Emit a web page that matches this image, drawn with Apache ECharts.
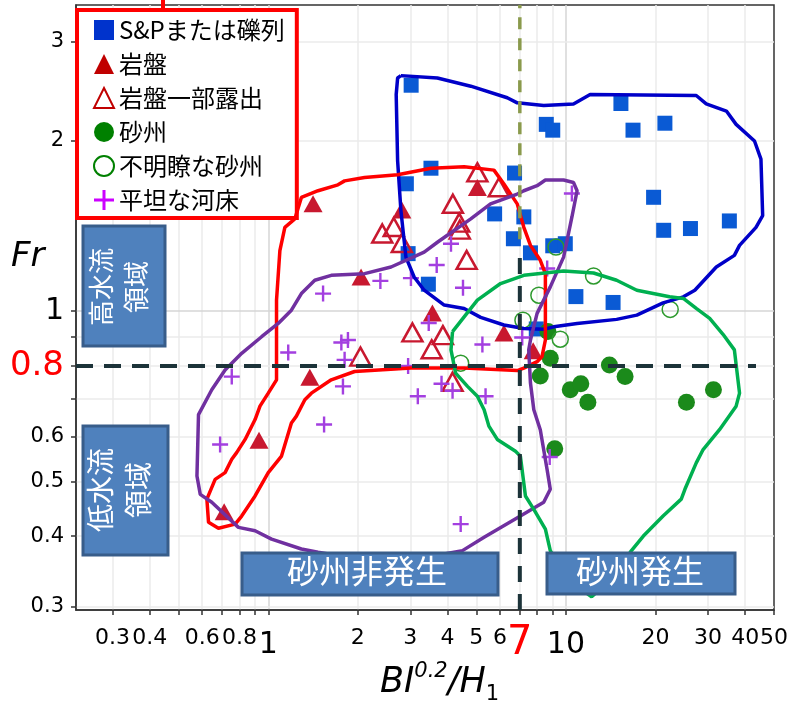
<!DOCTYPE html>
<html><head><meta charset="utf-8">
<script src="https://cdn.jsdelivr.net/npm/echarts@6/dist/echarts.min.js"></script>
<style>html,body{margin:0;padding:0;background:#fff}#c{width:791px;height:702px}</style>
</head><body><div id="c"></div>
<script>
// ---- axis setup ----
const xMin = 0.226, xMax = 50;
const yMin = 0.296, yMax = 3.48;
const xTickMarks = [0.3,0.4,0.5,0.6,0.7,0.8,0.9,1,2,3,4,5,6,7,8,9,10,20,30,40,50];
const xTickLabels = [0.3,0.4,0.6,0.8,1,2,3,4,5,6,7,10,20,30,40,50];
const yTickMarks = [0.3,0.4,0.5,0.6,0.7,0.8,0.9,1,2,3];
const yTickLabels = [0.3,0.4,0.5,0.6,0.8,1,2,3];
const xGrid = [0.3,0.4,0.5,0.6,0.7,0.8,0.9,1,2,3,4,5,6,7,8,9,10,20,30,40];
const yGrid = [0.3,0.4,0.5,0.6,0.7,0.8,0.9,1,2,3];
const xMajorGrid = [1,10];
const yMajorGrid = [1];
const frLine = 0.8;      // horizontal reference Fr
const xLine = 7;         // vertical reference
const frLineEndX = 43.5;
const xLineDarkTop = 1.28, xLineOliveBottom = 1.34;

// ---- scatter data [BI^0.2/H1, Fr] ----
const gravel = [[3.02,2.51],[15.3,2.33],[8.59,2.14],[9.03,2.09],[16.8,2.09],[21.5,2.15],[3.52,1.79],[2.91,1.68],[6.72,1.755],[19.7,1.59],[5.76,1.486],[7.22,1.468],[21.3,1.39],[26.2,1.40],[35.4,1.444],[6.66,1.343],[9.03,1.305],[9.95,1.316],[7.60,1.268],[2.95,1.264],[3.45,1.116],[10.8,1.061],[14.4,1.036],[7.95,0.93]];
const bedrock = [[1.414,1.548],[2.05,1.149],[2.81,1.51],[5.04,1.655],[3.56,0.992],[6.19,0.915],[1.379,0.764],[0.931,0.591],[0.711,0.4415],[7.76,0.851]];
const partBedrock = [[5.04,1.76],[5.95,1.656],[4.17,1.549],[4.38,1.434],[4.40,1.394],[2.64,1.409],[2.415,1.372],[2.81,1.32],[4.64,1.232],[3.05,0.917],[3.86,0.907],[3.54,0.856],[2.04,0.831],[4.16,0.75]];
const sandbar = [[8.70,0.92],[8.86,0.825],[8.20,0.768],[10.34,0.726],[11.22,0.744],[11.85,0.690],[14.0,0.803],[15.8,0.766],[25.4,0.690],[31.3,0.726],[9.17,0.571]];
const unclearBar = [[9.26,1.298],[12.38,1.154],[8.11,1.067],[22.4,1.007],[7.17,0.964],[9.57,0.892],[4.43,0.809]];
const flatBed = [[10.47,1.615],[4.11,1.316],[3.68,1.207],[4.51,1.10],[3.015,1.144],[2.38,1.131],[1.528,1.074],[3.46,0.953],[5.24,0.873],[1.167,0.845],[1.76,0.88],[1.852,0.889],[1.805,0.820],[0.754,0.766],[1.782,0.736],[2.95,0.80],[3.18,0.707],[3.82,0.744],[4.16,0.723],[5.37,0.707],[7.13,0.898],[8.65,1.19],[8.82,0.552],[4.43,0.42],[0.689,0.581],[1.54,0.630]];

// ---- hand-drawn region outlines ----
const blueOutline = [[2.79,2.61],[3.70,2.585],[4.79,2.50],[6.35,2.385],[6.86,2.336],[8.42,2.31],[10.6,2.326],[12.06,2.417],[27.4,2.407],[29.6,2.326],[34.6,2.259],[37.3,2.14],[43.0,2.0],[45.2,1.857],[45.8,1.476],[43.5,1.407],[38.3,1.307],[36.8,1.255],[32.0,1.197],[27.1,1.089],[24.8,1.06],[21.2,1.034],[17.3,0.984],[14.8,0.967],[10.9,0.951],[9.10,0.938],[8.42,0.929],[7.22,0.932],[6.19,0.945],[5.17,0.975],[4.55,1.011],[3.90,1.025],[3.34,1.089],[3.09,1.149],[2.90,1.246],[2.79,1.506],[2.72,1.845],[2.69,2.417],[2.72,2.585],[2.79,2.61]];
const redOutline = [[1.228,1.456],[1.292,1.589],[1.47,1.633],[1.714,1.673],[1.805,1.70],[2.106,1.723],[2.72,1.743],[3.52,1.79],[4.55,1.80],[5.73,1.776],[6.19,1.678],[6.86,1.548],[7.22,1.407],[7.60,1.307],[8.20,1.23],[8.53,1.165],[8.53,1.074],[8.53,0.889],[8.31,0.831],[8.0,0.814],[7.22,0.793],[6.86,0.785],[4.55,0.793],[3.015,0.793],[1.95,0.782],[1.628,0.756],[1.396,0.716],[1.327,0.697],[1.243,0.652],[1.196,0.634],[1.108,0.554],[1.0,0.518],[0.903,0.471],[0.814,0.434],[0.774,0.42],[0.68,0.413],[0.63,0.423],[0.622,0.465],[0.663,0.504],[0.716,0.518],[0.754,0.547],[0.783,0.562],[0.836,0.593],[0.903,0.643],[0.938,0.679],[1.0,0.716],[1.066,0.756],[1.066,1.046],[1.094,1.28],[1.137,1.407],[1.228,1.456]];
const purpleOutline = [[6.86,1.611],[5.58,1.548],[4.79,1.456],[4.21,1.389],[3.70,1.324],[3.34,1.272],[2.585,1.197],[2.106,1.165],[1.628,1.157],[1.433,1.134],[1.292,1.074],[1.196,1.004],[1.08,0.951],[0.95,0.901],[0.814,0.842],[0.716,0.787],[0.646,0.726],[0.583,0.656],[0.576,0.511],[0.591,0.474],[0.646,0.459],[0.794,0.4144],[0.903,0.4088],[1.026,0.395],[1.292,0.3795],[1.47,0.3745],[2.52,0.357],[4.49,0.377],[5.31,0.398],[7.03,0.434],[8.42,0.459],[8.86,0.484],[8.64,0.525],[8.20,0.617],[7.80,0.669],[7.60,0.746],[7.50,0.854],[7.60,0.889],[8.0,0.991],[8.86,1.104],[9.82,1.246],[10.47,1.466],[10.9,1.633],[10.6,1.689],[9.82,1.706],[8.53,1.706],[8.0,1.667],[7.22,1.633],[6.86,1.611]];
const greenOutline = [[4.16,0.92],[4.55,0.977],[5.04,1.046],[6.03,1.119],[7.22,1.157],[9.82,1.178],[12.38,1.168],[14.8,1.134],[17.3,1.089],[22.3,1.06],[24.8,1.053],[27.4,1.011],[30.4,0.971],[33.7,0.91],[36.8,0.854],[38.3,0.716],[37.3,0.679],[32.8,0.617],[28.9,0.569],[27.4,0.539],[25.1,0.484],[24.4,0.465],[21.2,0.434],[18.2,0.40],[16.6,0.377],[14.25,0.336],[12.2,0.3124],[10.08,0.336],[8.86,0.377],[8.53,0.4116],[7.80,0.446],[7.31,0.471],[7.03,0.554],[6.77,0.565],[5.88,0.593],[5.51,0.626],[5.31,0.669],[5.04,0.707],[4.67,0.736],[4.26,0.777],[4.11,0.854],[4.16,0.92]];

const names = ['S&Pまたは礫列','岩盤','岩盤一部露出','砂州','不明瞭な砂州','平坦な河床'];
const plusPath = 'path://M6.8,0h2.4v6.8h6.8v2.4h-6.8v6.8h-2.4v-6.8h-6.8v-2.4h6.8z';

const chart = echarts.init(document.getElementById('c'), null, {renderer:'canvas'});
const L = Math.log10;
function fmt(v){ return +Math.pow(10, v).toPrecision(2); }
const axisFont = 'DejaVu Sans';
const cjk = '"Noto Sans CJK JP"';

function outline(name, data, color){
  return {type:'line', name:name, data:data, xAxisIndex:0, yAxisIndex:0, showSymbol:false, symbol:'none',
    lineStyle:{color:color, width:3.5}, z:4, silent:true, animation:false};
}

const option = {
  animation:false,
  backgroundColor:'#fff',
  grid:{left:76, top:5, right:14, bottom:92, show:true, borderColor:'#333', borderWidth:1.5, backgroundColor:'transparent'},
  xAxis:[
    {type:'log', logBase:10, min:xMin, max:xMax, show:false},
    {type:'value', min:L(xMin), max:L(xMax), position:'bottom',
      axisLine:{show:true, lineStyle:{color:'#333', width:1.5}},
      axisTick:{show:true, length:5, lineStyle:{color:'#333', width:1.5}, customValues:xTickMarks.map(L)},
      splitLine:{show:false},
      axisLabel:{margin:14, customValues:xTickLabels.map(L), hideOverlap:false,
        formatter:function(v){ const t = fmt(v); if(t===1||t===10) return '{b|'+t+'}'; if(t===7) return '{r|7}'; return '{s|'+t+'}'; },
        rich:{s:{fontSize:22, fontFamily:axisFont, color:'#000', padding:[3,0,0,0]},
              b:{fontSize:30, fontFamily:axisFont, color:'#000', padding:[6,0,0,0]},
              r:{fontSize:40, fontFamily:axisFont, color:'#ff0000'}}}}
  ],
  yAxis:[
    {type:'log', logBase:10, min:yMin, max:yMax, show:false},
    {type:'value', min:L(yMin), max:L(yMax), position:'left',
      axisLine:{show:true, lineStyle:{color:'#333', width:1.5}},
      axisTick:{show:true, length:5, lineStyle:{color:'#333', width:1.5}, customValues:yTickMarks.map(L)},
      splitLine:{show:false},
      axisLabel:{margin:12, customValues:yTickLabels.map(L),
        formatter:function(v){ const t = fmt(v); if(t===1) return '{b|1}'; if(t===0.8) return '{r|0.8}'; return '{s|'+t+'}'; },
        rich:{s:{fontSize:21, fontFamily:axisFont, color:'#000'}, b:{fontSize:30, fontFamily:axisFont, color:'#000'}, r:{fontSize:34, fontFamily:axisFont, color:'#ff0000'}}}}
  ],
  legend:{
    orient:'vertical', left:77, top:10, backgroundColor:'#fff', borderColor:'#ff0000', borderWidth:4,
    padding:[8,12,6,16], itemGap:10, itemWidth:20, itemHeight:20, selectedMode:false,
    textStyle:{fontSize:24, fontFamily:cjk, color:'#000', lineHeight:24},
    data:[
      {name:names[0], icon:'rect', itemStyle:{color:'#0033cc'}},
      {name:names[1], icon:'triangle', itemStyle:{color:'#c00000'}},
      {name:names[2], icon:'triangle', itemStyle:{color:'rgba(0,0,0,0)', borderColor:'#c00000', borderWidth:2}},
      {name:names[3], icon:'circle', itemStyle:{color:'#008000'}},
      {name:names[4], icon:'circle', itemStyle:{color:'rgba(0,0,0,0)', borderColor:'#008000', borderWidth:2}},
      {name:names[5], icon:plusPath, itemStyle:{color:'#cc00ff'}}
    ]
  },
  series:[
    {type:'line', name:'grid', data:[[1,1]], xAxisIndex:0, yAxisIndex:0, symbol:'none', lineStyle:{width:0}, z:0, silent:true,
      markLine:{silent:true, z:0, symbol:'none', label:{show:false}, animation:false,
        lineStyle:{color:'#ebebeb', width:1.5, type:'solid'},
        data: xGrid.map(v=>({xAxis:v, lineStyle:{color: xMajorGrid.includes(v)?'#d6d6d6':'#ebebeb'}}))
          .concat(yGrid.map(v=>({yAxis:v, lineStyle:{color: yMajorGrid.includes(v)?'#d6d6d6':'#ebebeb'}})))}},
    {type:'scatter', name:names[0], data:gravel, symbol:'rect', symbolSize:15, itemStyle:{color:'#0a5ad4', opacity:1}, z:2},
    {type:'scatter', name:names[1], data:bedrock, symbol:'triangle', symbolSize:[19,17], itemStyle:{color:'#c8182f', opacity:1}, z:2},
    {type:'scatter', name:names[2], data:partBedrock, symbol:'triangle', symbolSize:[20,18], itemStyle:{color:'rgba(0,0,0,0)', borderColor:'#c8182f', borderWidth:2.5, opacity:1}, z:2},
    {type:'scatter', name:names[3], data:sandbar, symbol:'circle', symbolSize:17, itemStyle:{color:'#1b8a1b', opacity:1}, z:2},
    {type:'scatter', name:names[4], data:unclearBar, symbol:'circle', symbolSize:16, itemStyle:{color:'rgba(0,0,0,0)', borderColor:'#2e9a2e', borderWidth:1.5, opacity:1}, z:2},
    {type:'scatter', name:names[5], data:flatBed, symbol:plusPath, symbolSize:16, itemStyle:{color:'#a33fe0', opacity:1}, z:2},
    outline('blueOutline', blueOutline, '#0000c8'),
    outline('redOutline', redOutline, '#ff0000'),
    outline('purpleOutline', purpleOutline, '#7030a0'),
    outline('greenOutline', greenOutline, '#00b050'),
    {type:'line', name:'fr08', data:[[xMin,frLine],[frLineEndX,frLine]], symbol:'none', lineStyle:{color:'#1c3339', width:4, type:[17,11]}, z:5, silent:true},
    {type:'line', name:'x7dark', data:[[xLine,yMin],[xLine,xLineDarkTop]], symbol:'none', lineStyle:{color:'#1c3339', width:4, type:[16,12]}, z:5, silent:true},
    {type:'line', name:'x7olive', data:[[xLine,xLineOliveBottom],[xLine,yMax]], symbol:'none', lineStyle:{color:'#8a9a4c', width:3.5, type:[12,9]}, z:5, silent:true}
  ],
  graphic:[
    {type:'rect', left:161, top:0, shape:{width:4, height:10}, style:{fill:'#ff0000'}, z:100},
    {type:'text', left:11, top:240, style:{text:'Fr', font:'italic 34px "DejaVu Sans"', fill:'#000'}, z:100},
    {type:'text', left:380, top:661, style:{text:'{a|BI}{p|0.2}{a|/H}{u|1}',
      rich:{a:{font:'italic 35px "DejaVu Sans"', fill:'#000', lineHeight:44, verticalAlign:'middle'},
            p:{font:'italic 21px "DejaVu Sans"', fill:'#000', lineHeight:44, verticalAlign:'top'},
            u:{font:'21px "DejaVu Sans"', fill:'#000', lineHeight:44, verticalAlign:'bottom'}}}, z:100},
    {type:'rect', shape:{x:83, y:226, width:82, height:120}, style:{fill:'#4f81bd', stroke:'#385d8a', lineWidth:3}, z:100},
    {type:'text', x:119, y:287, rotation:Math.PI/2, style:{text:'高水流\n領域', font:'26px '+cjk, fill:'#fff', align:'center', verticalAlign:'middle', lineHeight:35}, z:101},
    {type:'rect', shape:{x:83, y:426, width:85, height:129}, style:{fill:'#4f81bd', stroke:'#385d8a', lineWidth:3}, z:100},
    {type:'text', x:119, y:490, rotation:Math.PI/2, style:{text:'低水流\n領域', font:'28px '+cjk, fill:'#fff', align:'center', verticalAlign:'middle', lineHeight:38}, z:101},
    {type:'rect', shape:{x:242, y:553, width:256, height:42}, style:{fill:'#4f81bd', stroke:'#385d8a', lineWidth:3}, z:100},
    {type:'text', x:367, y:571, style:{text:'砂州非発生', font:'32px '+cjk, fill:'#fff', align:'center', verticalAlign:'middle'}, z:101},
    {type:'rect', shape:{x:547, y:553, width:188, height:41}, style:{fill:'#4f81bd', stroke:'#385d8a', lineWidth:3}, z:100},
    {type:'text', x:640, y:571, style:{text:'砂州発生', font:'32px '+cjk, fill:'#fff', align:'center', verticalAlign:'middle'}, z:101}
  ]
};
chart.setOption(option);
</script></body></html>
